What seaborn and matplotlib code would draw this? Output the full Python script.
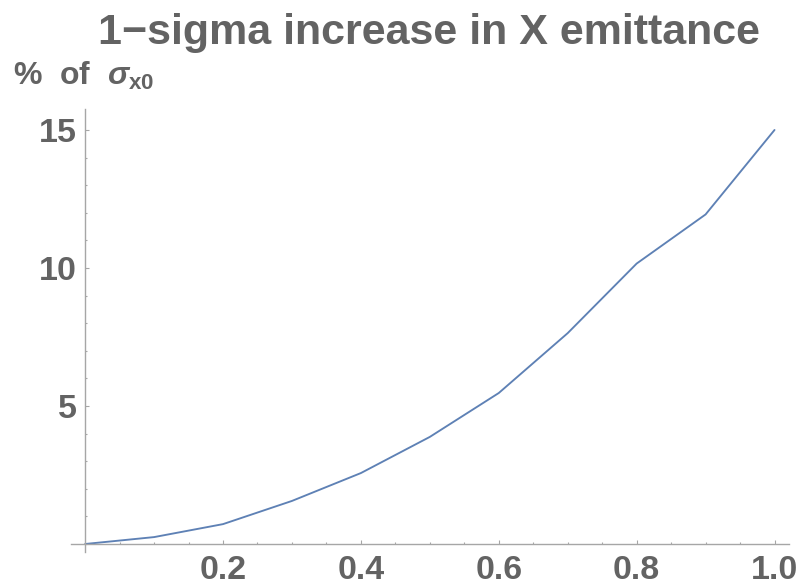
import matplotlib
matplotlib.use("Agg")
import matplotlib.pyplot as plt
import seaborn as sns
import pandas as pd
from matplotlib.ticker import MultipleLocator, FixedLocator

x_vals = [0.0, 0.1, 0.2, 0.3, 0.4, 0.5, 0.6, 0.7, 0.8, 0.9, 1.0]
y_vals = [0.0, 0.25, 0.72, 1.56, 2.57, 3.88, 5.47, 7.64, 10.16, 11.94, 15.0]
x_ticks = [0.2, 0.4, 0.6, 0.8, 1.0]
x_ticklabels = ["0.2", "0.4", "0.6", "0.8", "1.0"]
y_ticks = [5, 10, 15]
y_ticklabels = ["5", "10", "15"]
title = "1\u2212sigma increase in X emittance"

sns.set_style("white")
plt.rcParams["font.family"] = ["Liberation Sans", "DejaVu Sans"]
plt.rcParams["mathtext.fontset"] = "custom"
plt.rcParams["mathtext.rm"] = "Liberation Sans"
plt.rcParams["mathtext.it"] = "Liberation Sans:italic:bold"
plt.rcParams["mathtext.bf"] = "Liberation Sans:bold"

W, H = 803, 586
fig = plt.figure(figsize=(W / 100, H / 100), dpi=100)
ax = fig.add_axes([71 / W, 1 - 552 / H, (789 - 71) / W, (552 - 109) / H])

df = pd.DataFrame({"x": x_vals, "y": y_vals})
sns.lineplot(data=df, x="x", y="y", ax=ax, color="#5E81B5", linewidth=1.35)

ax.set_xlim(-0.0205, 1.021)
ax.set_ylim(-0.29, 15.76)

axis_col = "#a6a6a6"
txt_col = "#636363"
for s in ["top", "right"]:
    ax.spines[s].set_visible(False)
ax.spines["left"].set_position(("data", 0))
ax.spines["bottom"].set_position(("data", 0))
for s in ["left", "bottom"]:
    ax.spines[s].set_color(axis_col)
    ax.spines[s].set_linewidth(1.0)
ax.spines["left"].set_bounds(-0.29, 15.76)
ax.spines["bottom"].set_bounds(-0.0205, 1.021)

ax.xaxis.set_major_locator(FixedLocator(x_ticks))
ax.set_xticklabels(x_ticklabels)
ax.xaxis.set_minor_locator(MultipleLocator(0.05))
ax.yaxis.set_major_locator(FixedLocator(y_ticks))
ax.set_yticklabels(y_ticklabels)
ax.yaxis.set_minor_locator(MultipleLocator(1))

ax.tick_params(which="both", direction="in", color=axis_col, width=0.8,
               labelcolor=txt_col, labelsize=24.5)
ax.tick_params(which="major", length=3.0)
ax.tick_params(which="minor", length=1.5)
ax.tick_params(axis="x", which="both", bottom=True, pad=8)
ax.tick_params(axis="y", which="both", left=True, pad=6)
for lab in ax.get_xticklabels() + ax.get_yticklabels():
    lab.set_fontweight("bold")

ax.set_xlabel("")
ax.set_ylabel("")

fig.text(429 / W, 1 - 44 / H, title, ha="center", va="baseline",
         fontsize=31, fontweight="bold", color=txt_col)
fig.text(13 / W, 1 - 85 / H, r"%  of  $\mathit{\sigma}_{\mathbf{x0}}$", ha="left", va="baseline",
         fontsize=23, fontweight="bold", color=txt_col)

fig.savefig("out.png", dpi=100)
